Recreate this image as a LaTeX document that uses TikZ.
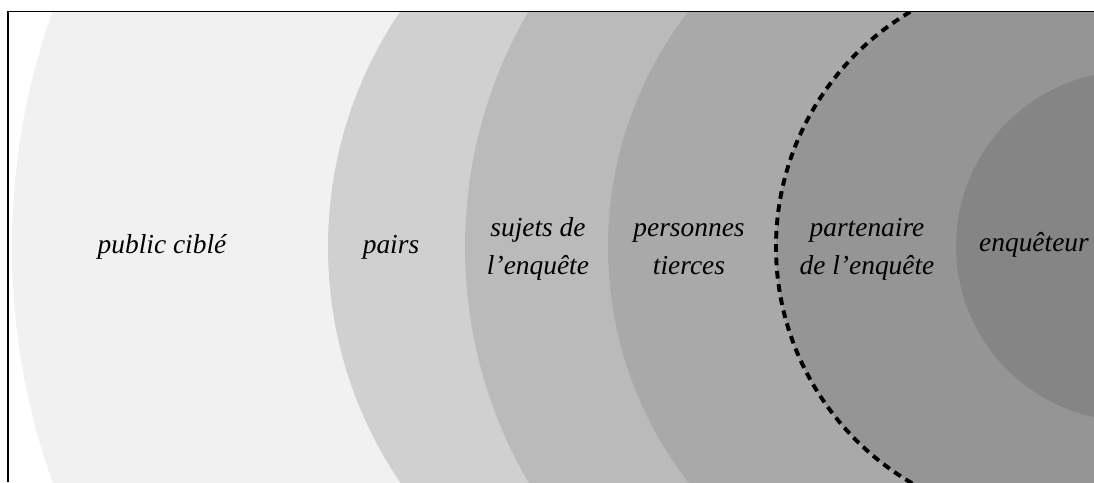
\documentclass[tikz,border=0pt]{standalone}
\usepackage{fontspec}
\setmainfont{Liberation Serif}
\usepackage{tikz}
\definecolor{publicgray}{RGB}{241,241,241}
\definecolor{pairsgray}{RGB}{208,208,208}
\definecolor{sujetsgray}{RGB}{186,186,186}
\definecolor{tiersgray}{RGB}{169,169,169}
\definecolor{partgray}{RGB}{149,149,149}
\definecolor{enqgray}{RGB}{133,133,133}

\begin{document}
\begin{tikzpicture}[
    x=0.025cm, y=0.025cm,
    every node/.style={font=\fontsize{19.5}{27}\selectfont\itshape, align=center},
    ring/.style={draw=none},
    dashring/.style={draw=black, line width=2.8pt, dash pattern=on 5.5pt off 4pt},
    frameline/.style={draw=black, line width=0.8pt}
]
\useasboundingbox (0,0) rectangle (1094,482);

% Nested circles, cut by the frame
\begin{scope}
\clip (8,0) rectangle (1094,470.5);
\fill[ring, publicgray] (712,235) circle [radius=700];
\fill[ring, pairsgray] (748,235) circle [radius=420];
\fill[ring, sujetsgray] (933,235) circle [radius=468];
\fill[ring, tiersgray] (993,235) circle [radius=385];
\filldraw[dashring, fill=partgray] (1049,235) circle [radius=273];
\fill[ring, enqgray] (1131,236) circle [radius=175];
\end{scope}

% Frame
\draw[frameline] (8,0) -- (8,470.5) -- (1094,470.5);

% Labels
\node (public) at (162,235) {public ciblé};
\node (pairs) at (391,235) {pairs};
\node (sujets) at (538,233) {sujets de\\l’enquête};
\node (tiers) at (689,233) {personnes\\tierces};
\node (partenaire) at (867,233) {partenaire\\de l’enquête};
\node (enqueteur) at (1034,237) {enquêteur};

\end{tikzpicture}
\end{document}
